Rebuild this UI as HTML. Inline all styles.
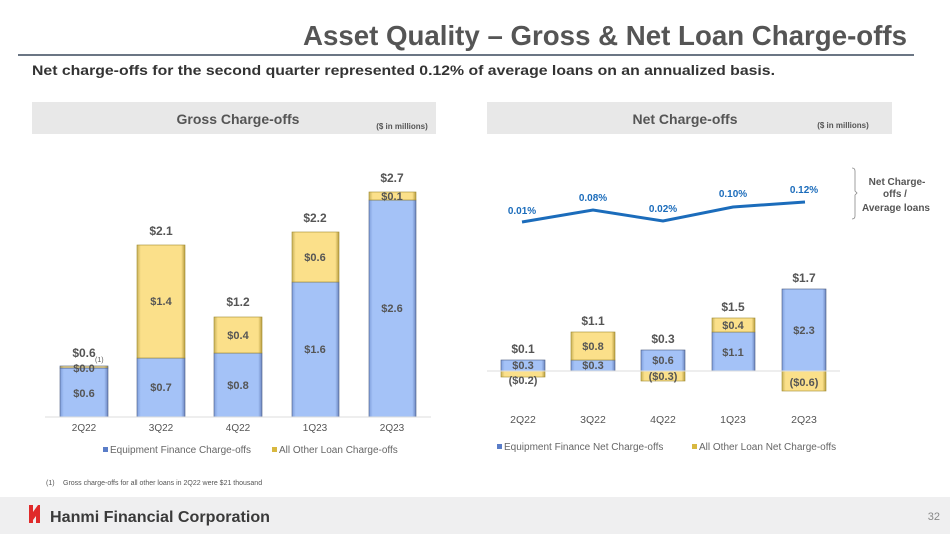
<!DOCTYPE html>
<html><head><meta charset="utf-8"><style>
body{margin:0;width:950px;height:534px;overflow:hidden;background:#fff;font-family:"Liberation Sans",Arial,sans-serif}
</style></head><body>
<svg width="950" height="534" viewBox="0 0 950 534" xmlns="http://www.w3.org/2000/svg" font-family="Liberation Sans, Arial, sans-serif">
<defs>
<linearGradient id="b" x1="0" x2="1"><stop offset="0" stop-color="#7f9fdc"/><stop offset="0.08" stop-color="#a4c2f7"/><stop offset="0.92" stop-color="#a4c2f7"/><stop offset="1" stop-color="#6c86c0"/></linearGradient>
<linearGradient id="y" x1="0" x2="1"><stop offset="0" stop-color="#c9b25a"/><stop offset="0.08" stop-color="#fbe08a"/><stop offset="0.92" stop-color="#fbe08a"/><stop offset="1" stop-color="#b89d40"/></linearGradient>
</defs>
<text x="303" y="45" textLength="604" lengthAdjust="spacingAndGlyphs" font-size="28" font-weight="bold" fill="#555">Asset Quality – Gross &amp; Net Loan Charge-offs</text>
<rect x="18" y="54" width="896" height="2" fill="#6b7684"/>
<text x="32" y="75" textLength="743" lengthAdjust="spacingAndGlyphs" font-size="13.5" font-weight="bold" fill="#333">Net charge-offs for the second quarter represented 0.12% of average loans on an annualized basis.</text>
<rect x="32" y="102" width="404" height="32" fill="#e8e8e8"/>
<rect x="487" y="102" width="405" height="32" fill="#e8e8e8"/>
<text x="238" y="124" text-anchor="middle" font-size="14" font-weight="bold" fill="#555">Gross Charge-offs</text>
<text x="402" y="129" text-anchor="middle" font-size="8" font-weight="bold" fill="#555">($ in millions)</text>
<text x="685" y="124" text-anchor="middle" font-size="14" font-weight="bold" fill="#555">Net Charge-offs</text>
<text x="843" y="128" text-anchor="middle" font-size="8" font-weight="bold" fill="#555">($ in millions)</text>

<g stroke="#4a5a80" stroke-width="0.6">
<rect x="60" y="368" width="48" height="49" fill="url(#b)"/>
<rect x="60" y="366" width="48" height="2" fill="url(#y)"/>
<rect x="137" y="358" width="48" height="59" fill="url(#b)"/>
<rect x="137" y="245" width="48" height="113" fill="url(#y)" stroke="#a08a30"/>
<rect x="214" y="353" width="48" height="64" fill="url(#b)"/>
<rect x="214" y="317" width="48" height="36" fill="url(#y)" stroke="#a08a30"/>
<rect x="292" y="282" width="47" height="135" fill="url(#b)"/>
<rect x="292" y="232" width="47" height="50" fill="url(#y)" stroke="#a08a30"/>
<rect x="369" y="200" width="47" height="217" fill="url(#b)"/>
<rect x="369" y="192" width="47" height="8" fill="url(#y)" stroke="#a08a30"/>
</g>
<line x1="45" y1="417" x2="431" y2="417" stroke="#ddd"/>
<g font-size="11" font-weight="bold" fill="#555" text-anchor="middle">
<text x="84" y="397">$0.6</text><text x="84" y="372">$0.0</text><text x="84" y="357" font-size="12">$0.6</text>
<text x="161" y="391">$0.7</text><text x="161" y="305">$1.4</text><text x="161" y="235" font-size="12">$2.1</text>
<text x="238" y="389">$0.8</text><text x="238" y="339">$0.4</text><text x="238" y="306" font-size="12">$1.2</text>
<text x="315" y="353">$1.6</text><text x="315" y="261">$0.6</text><text x="315" y="222" font-size="12">$2.2</text>
<text x="392" y="312">$2.6</text><text x="392" y="200">$0.1</text><text x="392" y="182" font-size="12">$2.7</text>
<text x="84" y="431" font-weight="normal" font-size="10">2Q22</text><text x="161" y="431" font-weight="normal" font-size="10">3Q22</text><text x="238" y="431" font-weight="normal" font-size="10">4Q22</text><text x="315" y="431" font-weight="normal" font-size="10">1Q23</text><text x="392" y="431" font-weight="normal" font-size="10">2Q23</text>
</g>
<text x="95" y="362" font-size="7" fill="#555">(1)</text>
<rect x="103" y="447" width="5" height="5" fill="#5a7dc8"/>
<text x="110" y="453" font-size="10" fill="#666">Equipment Finance Charge-offs</text>
<rect x="272" y="447" width="5" height="5" fill="#d8b840"/>
<text x="279" y="453" font-size="10" fill="#666">All Other Loan Charge-offs</text>

<g stroke="#4a5a80" stroke-width="0.6">
<rect x="501" y="360" width="44" height="11" fill="url(#b)"/>
<rect x="501" y="371" width="44" height="6" fill="url(#y)" stroke="#a08a30"/>
<rect x="571" y="360" width="44" height="11" fill="url(#b)"/>
<rect x="571" y="332" width="44" height="28" fill="url(#y)" stroke="#a08a30"/>
<rect x="641" y="350" width="44" height="21" fill="url(#b)"/>
<rect x="641" y="371" width="44" height="10" fill="url(#y)" stroke="#a08a30"/>
<rect x="712" y="332" width="43" height="39" fill="url(#b)"/>
<rect x="712" y="318" width="43" height="14" fill="url(#y)" stroke="#a08a30"/>
<rect x="782" y="289" width="44" height="82" fill="url(#b)"/>
<rect x="782" y="371" width="44" height="20" fill="url(#y)" stroke="#a08a30"/>
</g>
<line x1="487" y1="371" x2="840" y2="371" stroke="#ddd"/>
<g font-size="11" font-weight="bold" fill="#555" text-anchor="middle">
<text x="523" y="369">$0.3</text><text x="523" y="384">($0.2)</text><text x="523" y="353" font-size="12">$0.1</text>
<text x="593" y="369">$0.3</text><text x="593" y="350">$0.8</text><text x="593" y="325" font-size="12">$1.1</text>
<text x="663" y="364">$0.6</text><text x="663" y="380">($0.3)</text><text x="663" y="343" font-size="12">$0.3</text>
<text x="733" y="356">$1.1</text><text x="733" y="329">$0.4</text><text x="733" y="311" font-size="12">$1.5</text>
<text x="804" y="334">$2.3</text><text x="804" y="386">($0.6)</text><text x="804" y="282" font-size="12">$1.7</text>
<text x="523" y="423" font-weight="normal" font-size="10.5">2Q22</text><text x="593" y="423" font-weight="normal" font-size="10.5">3Q22</text><text x="663" y="423" font-weight="normal" font-size="10.5">4Q22</text><text x="733" y="423" font-weight="normal" font-size="10.5">1Q23</text><text x="804" y="423" font-weight="normal" font-size="10.5">2Q23</text>
</g>
<polyline points="522,222 593,210 663,221 733,207 805,202" fill="none" stroke="#1b6cbb" stroke-width="3"/>
<g font-size="10" font-weight="bold" fill="#1b6cbb" text-anchor="middle">
<text x="522" y="214">0.01%</text><text x="593" y="201">0.08%</text><text x="663" y="212">0.02%</text><text x="733" y="197">0.10%</text><text x="804" y="193">0.12%</text>
</g>
<path d="M852,168 Q855,168 855,171 L855,191 L857,193 L855,195 L855,216 Q855,219 852,219" fill="none" stroke="#888" stroke-width="0.8"/>
<g font-size="10" font-weight="bold" fill="#555" text-anchor="middle">
<text x="897" y="185">Net Charge-</text><text x="895" y="197">offs /</text><text x="896" y="211">Average loans</text>
</g>
<rect x="497" y="444" width="5" height="5" fill="#5a7dc8"/>
<text x="504" y="450" font-size="10" fill="#666">Equipment Finance Net Charge-offs</text>
<rect x="692" y="444" width="5" height="5" fill="#d8b840"/>
<text x="699" y="450" font-size="10" fill="#666">All Other Loan Net Charge-offs</text>

<text x="46" y="485" font-size="7" fill="#555">(1)</text>
<text x="63" y="485" font-size="7" fill="#555">Gross charge-offs for all other loans in 2Q22 were $21 thousand</text>
<rect x="0" y="497" width="950" height="37" fill="#efeff0"/>
<path d="M29,505 L33,505 L33,512 L38,505 L40,505 L40,523 L36,523 L36,516 L33,520 L33,523 L29,523 Z" fill="#e02a2a"/>
<text x="50" y="522" textLength="220" lengthAdjust="spacingAndGlyphs" font-size="16" font-weight="bold" fill="#3a3a3a">Hanmi Financial Corporation</text>
<text x="940" y="520" text-anchor="end" font-size="11" fill="#888">32</text>
</svg>
</body></html>
